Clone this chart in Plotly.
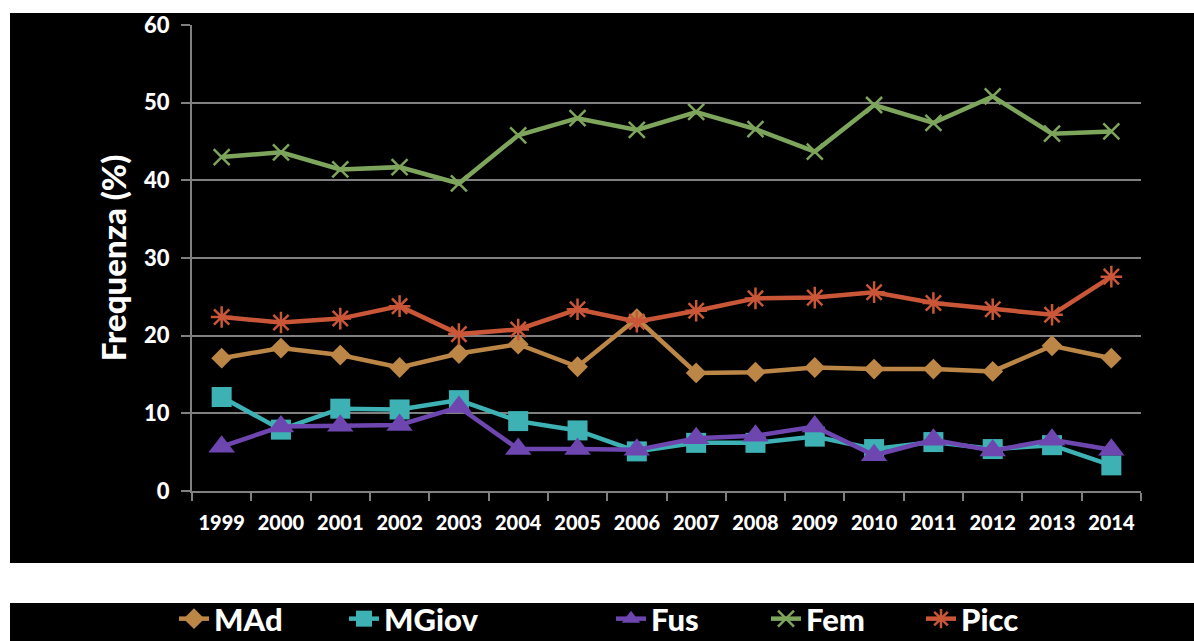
import plotly.graph_objects as go

# Anni di osservazione
years = ["1999", "2000", "2001", "2002", "2003", "2004", "2005", "2006",
         "2007", "2008", "2009", "2010", "2011", "2012", "2013", "2014"]

# Frequenza (%) per gruppo
mad = [17.1, 18.4, 17.5, 15.9, 17.7, 18.9, 16.0, 22.2,
       15.2, 15.3, 15.9, 15.7, 15.7, 15.4, 18.7, 17.1]
mgiov = [12.1, 7.9, 10.6, 10.5, 11.7, 9.0, 7.8, 5.1,
         6.2, 6.2, 7.0, 5.4, 6.3, 5.4, 5.9, 3.3]
fus = [5.7, 8.3, 8.4, 8.5, 10.8, 5.4, 5.4, 5.3,
       6.8, 7.1, 8.3, 4.6, 6.6, 5.2, 6.6, 5.3]
fem = [43.0, 43.6, 41.4, 41.7, 39.6, 45.8, 48.0, 46.5,
       48.8, 46.6, 43.7, 49.7, 47.4, 50.8, 46.0, 46.3]
picc = [22.4, 21.7, 22.2, 23.8, 20.2, 20.8, 23.4, 21.8,
        23.2, 24.8, 24.9, 25.6, 24.2, 23.4, 22.7, 27.6]

y_ticks = [0, 10, 20, 30, 40, 50, 60]

W, H = 1194, 641
ML, MR, MT, MB = 192, 53, 25, 150
PW, PH = W - ML - MR, H - MT - MB


def px_x(p):
    return (p - ML) / PW


def px_y(p):
    return (H - MB - p) / PH


FONT = "Lato, 'Open Sans', sans-serif"
HEAVY = 900

series = [
    ("MAd", mad, "#BC8646", dict(symbol="diamond", size=16), "legend"),
    ("MGiov", mgiov, "#3DB1B4", dict(symbol="square", size=20), "legend"),
    ("Fus", fus, "#6E46B0", dict(symbol="triangle-up", size=23), "legend2"),
    ("Fem", fem, "#7DA55B", dict(symbol="x-thin-open", size=16,
                                 line=dict(width=2.5)), "legend2"),
    ("Picc", picc, "#CA5638", dict(symbol="asterisk-open", size=18,
                                   line=dict(width=2.5)), "legend2"),
]

fig = go.Figure()
for name, vals, color, marker, leg in series:
    m = dict(color=color, **marker)
    if "line" in m:
        m["line"] = dict(color=color, **m["line"])
    fig.add_trace(go.Scatter(
        x=years, y=vals, name=name, mode="lines+markers",
        line=dict(color=color, width=4.5),
        marker=m, legend=leg,
    ))

# Pannelli neri su sfondo bianco
white = "#FFFFFF"
shapes = [
    dict(type="rect", xref="paper", yref="paper", layer="below",
         x0=px_x(0), x1=px_x(W), y0=px_y(0), y1=px_y(13),
         fillcolor=white, line=dict(width=0)),
    dict(type="rect", xref="paper", yref="paper", layer="below",
         x0=px_x(0), x1=px_x(10), y0=px_y(0), y1=px_y(H),
         fillcolor=white, line=dict(width=0)),
    dict(type="rect", xref="paper", yref="paper", layer="below",
         x0=px_x(0), x1=px_x(W), y0=px_y(563), y1=px_y(603),
         fillcolor=white, line=dict(width=0)),
]

legend_common = dict(
    orientation="h", xanchor="left", yanchor="middle",
    y=px_y(619), bgcolor="rgba(0,0,0,0)", borderwidth=0,
    font=dict(family=FONT, size=31, color="white", weight=HEAVY),
    entrywidthmode="pixels", itemsizing="trace", tracegroupgap=0,
)

fig.update_layout(
    width=W, height=H,
    margin=dict(l=ML, r=MR, t=MT, b=MB, autoexpand=False),
    paper_bgcolor="#000000",
    plot_bgcolor="#000000",
    shapes=shapes,
    showlegend=True,
    legend=dict(x=px_x(174), entrywidth=125, **legend_common),
    legend2=dict(x=px_x(611), entrywidth=110, **legend_common),
    xaxis=dict(
        type="category", range=[-0.5, 15.5],
        showgrid=False, zeroline=False,
        showline=True, linecolor="#808080", linewidth=2,
        ticks="outside", tickson="boundaries", ticklen=8,
        tickcolor="#808080", tickwidth=2,
        ticklabelstandoff=13,
        tickfont=dict(family=FONT, size=20, color="white", weight=HEAVY),
    ),
    yaxis=dict(
        range=[0, 60], tickvals=y_ticks,
        showgrid=True, gridcolor="#808080", gridwidth=1.5,
        zeroline=False,
        showline=True, linecolor="#808080", linewidth=2,
        ticks="outside", ticklen=9, tickcolor="#808080", tickwidth=1.5,
        ticklabelstandoff=7,
        tickfont=dict(family=FONT, size=22, color="white", weight=HEAVY),
        title=dict(text="Frequenza (%)", standoff=8,
                   font=dict(family=FONT, size=33, color="white",
                             weight=HEAVY)),
    ),
)

fig.write_html("out.html")
